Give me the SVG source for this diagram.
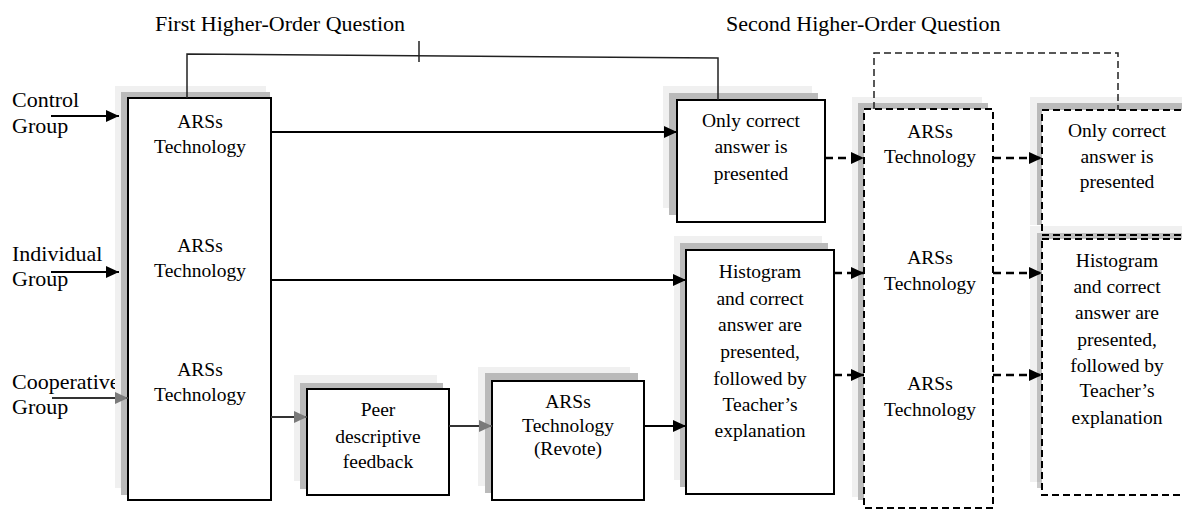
<svg xmlns="http://www.w3.org/2000/svg" width="1182" height="510" viewBox="0 0 1182 510">
<defs>
<style>
text{font-family:"Liberation Serif","Times New Roman",serif;fill:#000}
.bt{font-size:19.5px;text-anchor:middle}
.lbl{font-size:22px}
.ttl{font-size:22px}
.sl{fill:#f0f0f0}
.sd{fill:#bababa}
.box{fill:#fff;stroke:#000;stroke-width:2}
.dbox{fill:#fff;stroke:#000;stroke-width:2;stroke-dasharray:7 4}
.ln{fill:none;stroke:#000;stroke-width:2}
.lng{fill:none;stroke:#333;stroke-width:2}
.dln{fill:none;stroke:#000;stroke-width:2.5;stroke-dasharray:8 5}
.br{fill:none;stroke:#222;stroke-width:1.5}
.dbr{fill:none;stroke:#222;stroke-width:1.5;stroke-dasharray:7 4}
</style>
<marker id="ah" markerUnits="userSpaceOnUse" markerWidth="13" markerHeight="12" refX="13" refY="6" orient="auto"><path d="M0,0 L13,6 L0,12 z" fill="#000"/></marker>
<marker id="ahg" markerUnits="userSpaceOnUse" markerWidth="13" markerHeight="12" refX="13" refY="6" orient="auto"><path d="M0,0 L13,6 L0,12 z" fill="#7a7a7a"/></marker>
</defs>
<rect width="1182" height="510" fill="#fff"/>

<g id="titles">
<text class="ttl" x="155" y="31">First Higher-Order Question</text>
<text class="ttl" x="726" y="31">Second Higher-Order Question</text>
</g>

<g id="labels">
<text class="lbl" x="12" y="107">Control</text>
<text class="lbl" x="12" y="133">Group</text>
<text class="lbl" x="12" y="261">Individual</text>
<text class="lbl" x="12" y="286">Group</text>
<text class="lbl" x="12" y="389">Cooperative</text>
<text class="lbl" x="12" y="414">Group</text>
</g>

<g id="n-ars-left">
<rect class="sl" x="115" y="86" width="151" height="402"/>
<rect class="sd" x="121" y="92" width="149" height="403"/>
<rect class="box" x="128" y="98" width="143" height="402"/>
<text class="bt" x="200" y="128">ARSs</text>
<text class="bt" x="200" y="153">Technology</text>
<text class="bt" x="200" y="252">ARSs</text>
<text class="bt" x="200" y="277">Technology</text>
<text class="bt" x="200" y="376">ARSs</text>
<text class="bt" x="200" y="401">Technology</text>
</g>

<g id="n-only1">
<rect class="sl" x="663" y="86" width="149" height="122"/>
<rect class="sd" x="669" y="93" width="149" height="122"/>
<rect class="box" x="677" y="100" width="148" height="122"/>
<text class="bt" x="751" y="127">Only correct</text>
<text class="bt" x="751" y="153">answer is</text>
<text class="bt" x="751" y="180">presented</text>
</g>

<g id="n-peer">
<rect class="sl" x="294" y="375" width="143" height="106"/>
<rect class="sd" x="300" y="383" width="143" height="106"/>
<rect class="box" x="307" y="389" width="142" height="106"/>
<text class="bt" x="378" y="416">Peer</text>
<text class="bt" x="378" y="443">descriptive</text>
<text class="bt" x="378" y="468">feedback</text>
</g>

<g id="n-revote">
<rect class="sl" x="478" y="367" width="152" height="119"/>
<rect class="sd" x="485" y="373" width="153" height="120"/>
<rect class="box" x="492" y="381" width="152" height="119"/>
<text class="bt" x="568" y="408">ARSs</text>
<text class="bt" x="568" y="432">Technology</text>
<text class="bt" x="568" y="455">(Revote)</text>
</g>

<g id="n-hist1">
<rect class="sl" x="674" y="236" width="148" height="244"/>
<rect class="sd" x="680" y="243" width="148" height="244"/>
<rect class="box" x="686" y="250" width="148" height="244"/>
<text class="bt" x="760" y="278">Histogram</text>
<text class="bt" x="760" y="305">and correct</text>
<text class="bt" x="760" y="331">answer are</text>
<text class="bt" x="760" y="358">presented,</text>
<text class="bt" x="760" y="385">followed by</text>
<text class="bt" x="760" y="411">Teacher’s</text>
<text class="bt" x="760" y="437">explanation</text>
</g>

<g id="n-ars-right">
<rect class="sl" x="852" y="97" width="130" height="400"/>
<rect class="sd" x="858" y="103" width="130" height="397"/>
<rect class="dbox" x="864" y="109" width="129" height="399"/>
<text class="bt" x="930" y="138">ARSs</text>
<text class="bt" x="930" y="163">Technology</text>
<text class="bt" x="930" y="264">ARSs</text>
<text class="bt" x="930" y="290">Technology</text>
<text class="bt" x="930" y="390">ARSs</text>
<text class="bt" x="930" y="416">Technology</text>
</g>

<g id="n-only2">
<rect class="sl" x="1030" y="97" width="160" height="128"/>
<rect class="sd" x="1037" y="103" width="160" height="122"/>
<rect class="dbox" x="1042" y="110" width="150" height="125"/>
<text class="bt" x="1117" y="137">Only correct</text>
<text class="bt" x="1117" y="163">answer is</text>
<text class="bt" x="1117" y="188">presented</text>
</g>

<g id="n-hist2">
<rect x="1030" y="226" width="160" height="256" fill="#000" fill-opacity="0.06"/>
<rect x="1037" y="233" width="160" height="255" fill="#000" fill-opacity="0.2"/>
<rect class="dbox" x="1042" y="239" width="150" height="256"/>
<text class="bt" x="1117" y="267">Histogram</text>
<text class="bt" x="1117" y="293">and correct</text>
<text class="bt" x="1117" y="319">answer are</text>
<text class="bt" x="1117" y="346">presented,</text>
<text class="bt" x="1117" y="372">followed by</text>
<text class="bt" x="1117" y="397">Teacher’s</text>
<text class="bt" x="1117" y="424">explanation</text>
</g>

<g id="connectors">
<path class="br" d="M187,98 L187,54 L718,58 L718,100"/>
<path class="br" d="M419,41 L419,62"/>
<path class="dbr" d="M874,109 L874,53 L1118,53 L1118,110"/>
<line class="ln" x1="51" y1="116" x2="119" y2="116" marker-end="url(#ah)"/>
<line class="ln" x1="51" y1="272" x2="119" y2="272" marker-end="url(#ah)"/>
<line class="lng" x1="52" y1="398" x2="128" y2="398" marker-end="url(#ahg)"/>
<line class="ln" x1="271" y1="132" x2="677" y2="132" marker-end="url(#ah)"/>
<line class="ln" x1="271" y1="280" x2="686" y2="280" marker-end="url(#ah)"/>
<line class="lng" x1="271" y1="417" x2="307" y2="417" marker-end="url(#ahg)"/>
<line class="lng" x1="449" y1="426" x2="492" y2="426" marker-end="url(#ahg)"/>
<line class="ln" x1="644" y1="426" x2="686" y2="426" marker-end="url(#ah)"/>
<line class="dln" x1="825" y1="158" x2="864" y2="158" marker-end="url(#ah)"/>
<line class="dln" x1="834" y1="273" x2="864" y2="273" marker-end="url(#ah)"/>
<line class="dln" x1="834" y1="375" x2="864" y2="375" marker-end="url(#ah)"/>
<line class="dln" x1="993" y1="158" x2="1042" y2="158" marker-end="url(#ah)"/>
<line class="dln" x1="993" y1="273" x2="1042" y2="273" marker-end="url(#ah)"/>
<line class="dln" x1="993" y1="375" x2="1042" y2="375" marker-end="url(#ah)"/>
</g>
</svg>
